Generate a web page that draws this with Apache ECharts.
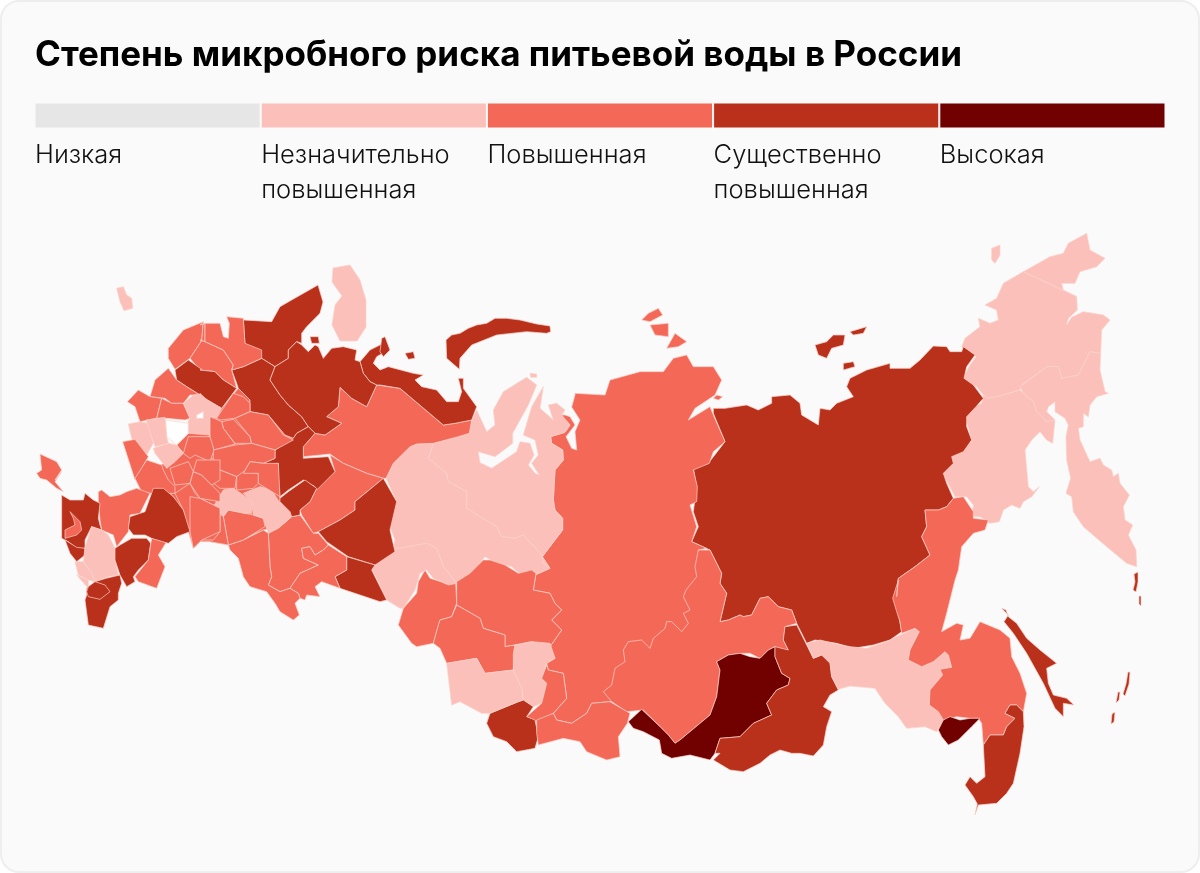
<!DOCTYPE html>
<html><head><meta charset="utf-8">
<style>html,body{margin:0;padding:0;background:#fff}#c{width:1200px;height:873px}</style>
<script src="https://cdn.jsdelivr.net/npm/echarts@6/dist/echarts.min.js"></script>
</head><body><div id="c"></div>
<script>
const titleText = 'Степень микробного риска питьевой воды в России';
const riskLabels = ['Низкая','Незначительно\nповышенная','Повышенная','Существенно\nповышенная','Высокая'];
const riskColors = ['#e6e6e6','#fbc0b9','#f46857','#b9301b','#710000'];
const riskBarLengths = [1,1,1,1,1];

// Region value: 0..4 index of riskLabels; null = no data
const regionNames = ['Центр','Чукотка','Врангель','Магаданский сектор','Камчатка','Колыма','Якутия','Новосибирские о-ва','Красноярск','Таймырские о-ва','Иркутск','Бурятия','Забайкалье','Амур','Хабаровск','Приморье','ЕАО','Сахалин','Курилы','ЯНАО','ХМАО','Томск','Омск','Новосибирск','Кемерово','Хакасия','Алтай','Алтайский край','Тува','Тюмень','Коми','Ненецкий','Новая Земля','Архангельск-1','Архангельск-2','Архангельск-3','Острова Баренцева','Кольский','Шпицберген','Пермь','Свердловск','Челябинск','Башкирия-1','Башкирия-2','Поволжье-1','Поволжье-2','Поволжье-3','Светлая-1','Светлая-2','Кировская','Удмуртия','Север-1','Север-2','Север-3','Север-4','Север-5','Запад-1','Запад-2','Запад-3','Светлая-3','Столичная','Светлая-4','Светлая-5','Светлая-6','Светлая-7','Центр-1','Центр-2','Центр-3','Центр-4','Центр-5','Центр-6','Центр-7','Центр-8','Центр-9','Центр-10','Центр-11','Юг-1','Юг-2','Юг-3','Юг-4','Крым','Ростов','Краснодар','Адыгея','Кавказ-1','Ставрополь','Кавказ-2','Кавказ-3','Кавказ-5','Кавказ-4','Калмыкия','Астрахань','Волгоград','Оренбург-запад','Москва'];
const regionLevels = [2,1,1,1,1,1,3,3,2,2,2,4,3,1,2,3,4,3,3,1,1,2,2,2,1,2,3,1,2,1,2,3,3,3,3,3,3,1,1,2,3,3,2,2,2,2,2,1,1,3,3,2,2,2,3,2,2,2,2,1,null,1,1,1,1,2,2,2,2,2,2,2,2,2,2,2,2,2,2,2,2,2,3,2,3,1,1,1,3,3,3,2,3,2,null];

// Region outlines: "crop:x,y x,y ..." with rings split by ';'. Each crop is an offset and scale of the page.
const crops = {p:[0,0,1],a:[20,280,3],b:[20,460,3],c:[200,300,3],d:[200,470,3],e:[380,300,3],f:[390,560,3],g:[600,590,3],h:[800,580,3],i:[940,230,3],j:[550,300,3],k:[690,320,3]};
const regionShapes = [
"b:345,55 365,95 390,100 430,85 460,110 510,215 520,265 545,240 600,215 d:30,215 85,225 190,180 240,170 240,85 235,45 c:235,490 225,450 280,415 255,405 205,345 150,335 150,300 115,265 65,325 20,300 0,280 a:540,345 510,415 505,425 505,460 470,495 490,520",
"i:250,125 330,80 370,70 385,40 440,10 450,60 495,85 470,110 420,125 405,160 365,160 370,180 410,200",
"i:155,55 180,45 180,75 165,100 155,90",
"i:250,125 190,160 170,205 135,225 170,240 175,270 150,280 115,265 120,290 75,325 65,350 108,380 90,405 72,440 80,460 110,470 130,495 145,505 190,495 240,480 245,465 320,410 355,410 365,445 415,435 450,365 482,370 485,300 510,270 490,255 430,245 395,262 380,285 385,265 412,240 410,200",
"i:240,470 320,410 355,410 365,445 415,435 450,365 482,370 480,420 495,485 505,490 470,500 450,525 445,560 430,550 430,590 415,595 420,630 450,695 480,685 490,705 515,720 520,740 535,730 540,760 568,795 550,830 555,870 578,885 565,915 588,960 590,1010 560,1000 500,950 430,890 400,845 395,800 378,790 392,745 380,690 378,620 385,585 375,565 345,545 345,515 325,530 320,545 345,570 320,575 290,545 280,515 250,490",
"i:130,495 145,505 190,495 240,480 250,490 280,515 290,545 320,575 345,570 338,640 320,630 300,605 275,630 255,660 265,770 280,785 298,770 275,800 250,815 240,835 215,825 190,840 178,875 150,880 120,860 95,860 100,825 80,800 45,800 40,790 10,735 15,715 35,680 60,660 95,635 90,610 78,570 85,540 125,520",
"k:70,265 105,265 170,255 205,270 245,250 245,230 300,225 330,250 335,285 385,315 390,265 420,270 440,250 490,230 470,200 480,175 530,150 600,130 600,145 660,145 690,120 730,78 770,80 780,95 815,95 820,80 855,105 830,140 822,175 850,195 880,235 858,260 830,290 830,320 845,360 820,395 785,410 790,430 760,460 770,490 790,535 770,560 745,570 705,570 710,620 695,650 720,705 675,740 625,775 620,830 625,880 635,935 600,960 550,975 490,985 440,970 375,960 350,970 320,910 305,870 265,860 235,830 210,835 185,885 160,890 150,885 115,900 90,905 110,820 90,790 95,760 60,690 5,665 25,620 10,575 20,500 10,445 55,430 105,365 70,280",
"k:375,75 410,65 430,45 465,45 460,75 425,85 410,115 385,105;k:480,35 530,20 520,40 490,45;k:460,130 490,125 495,140 460,150",
"e:585,285 575,321 600,360 585,395 590,450 575,445 558,410 585,375 570,350 555,345 542,345 570,375 555,397 512,410 515,430 548,450 550,480 525,510 520,600 525,630 548,655 548,690 525,720 487,770 510,805 465,825 f:438,40 430,90 480,100 495,130 515,150 485,180 515,210 480,260 495,295 470,310 475,330 520,340 530,415 490,460 500,480 545,490 590,460 605,430 660,425 p:628,690 640,660 690,632 705,595 j:445,750 470,745 425,725 440,680 420,615 440,605 442,560 430,510 478,490 490,455 525,425 490,345 480,320 415,360 435,325 495,285 515,240 490,200 430,200 410,165 370,175 340,215 270,215 180,240 165,285 75,280",
"j:295,40 325,25 338,45 300,65 275,60;j:300,75 355,70 355,110 315,105;j:375,100 410,125 385,140 350,145;j:500,285 518,290 505,300 490,295",
"j:445,750 k:60,690 95,760 90,790 110,820 90,905 115,900 150,885 160,890 185,885 210,835 235,830 265,860 305,870 g:590,100 555,110 550,150 565,180 530,185 525,170 505,180 480,205 450,190 420,190 385,195 350,215 360,240 350,320 330,375 240,450 225,460 205,435 130,360 80,365 35,335 10,305 35,285 45,235 75,215 70,180 85,155 125,150 150,175 160,145 195,115 200,95 215,95 245,125 265,100 250,70 270,60 250,20 258,0 j:440,830 435,800",
"g:85,395 125,358 180,410 205,435 225,460 240,450 330,375 350,320 360,240 350,215 385,195 420,190 450,200 480,205 505,180 525,170 525,200 545,250 570,265 565,285 530,300 500,340 515,375 460,400 420,440 360,445 345,490 330,510 270,495 215,505 185,490 178,450 130,425 100,415",
"g:555,110 590,105 620,165 640,205 665,195 690,215 695,260 715,300 690,315 670,350 695,365 680,410 670,465 640,498 600,490 575,490 540,480 510,495 480,520 430,545 390,540 340,510 360,490 345,490 360,445 420,440 460,400 515,375 500,340 530,300 565,285 570,265 545,250 525,200 525,170 565,180 550,150",
"h:20,190 60,180 100,190 150,200 200,205 260,185 300,165 345,145 358,155 330,210 325,240 365,260 400,245 435,215 445,225 455,262 420,268 428,285 390,330 388,375 415,395 430,420 410,455 375,440 320,445 295,410 255,370 225,325 150,318 115,328 95,290 90,250 65,225 40,235",
"k:705,570 745,570 770,560 790,535 820,530 850,575 850,595 895,600 885,630 850,640 815,680 805,750 h:465,0 440,100 425,155 470,130 490,135 480,180 510,175 525,150 540,125 600,150 630,175 635,230 660,280 680,340 670,395 650,375 630,375 615,400 645,415 620,440 610,465 570,465 550,495 545,430 535,415 510,415 470,410 430,420 415,395 388,375 390,330 428,285 420,268 455,262 445,225 435,215 400,245 365,260 325,240 330,210 358,155 345,145 305,160 300,125 290,95 278,55 295,0 k:620,830 625,775 675,740 720,705 695,650 710,620",
"h:670,395 650,375 630,375 615,400 645,415 620,440 610,465 570,465 550,495 555,590 530,610 510,590 495,615 520,650 532,672 525,705 535,675 590,670 620,640 640,610 660,520 672,440",
"h:415,450 430,420 450,410 480,420 510,415 540,415 515,440 475,480 445,495 425,470",
"h:605,85 618,90 625,110 650,130 680,175 720,210 770,250 740,265 745,310 760,345 800,355 822,375 790,370 790,410 765,385 730,310 680,220 640,160 612,125 625,105",
"p:1134,574 1138,572 1138,582 1136,592 1133,590 1135,582;p:1139,596 1141,596 1141,606 1139,604;p:1128,672 1130,672 1129,684 1125,696 1123,694 1126,684;p:1118,692 1120,692 1119,700 1116,703;p:1112,714 1115,712 1114,722 1111,724",
"e:160,430 145,475 200,520 205,545 260,575 260,625 350,680 365,710 405,715 430,705 485,765 490,790 510,805 487,770 525,720 548,690 548,655 525,630 520,600 525,510 550,480 548,450 515,430 512,410 555,397 570,375 545,345 555,330 530,310 505,315 520,360 480,325 490,260 455,320 430,405 465,420 475,465 455,490 478,525 465,520 445,495 462,465 450,430 420,425 410,455 335,505 300,488 295,455 345,470 398,430 398,400 445,315 470,255 440,232 370,275 340,330 345,375 320,395 290,330 275,360 268,400 235,410;e:450,220 470,222 470,232 452,232",
"e:160,430 145,475 200,520 205,545 260,575 260,625 350,680 365,710 405,715 430,705 485,765 490,790 510,805 465,825 420,822 395,800 350,790 315,770 275,820 230,850 190,800 170,745 140,730 60,745 40,745 45,720 30,680 48,600 18,535 40,490 90,440 110,432",
"f:200,65 240,40 280,0 300,0 345,15 385,40 425,30 438,40 430,90 480,100 495,130 515,150 485,180 515,210 480,260 425,245 375,255 345,260 345,225 280,205 270,175 200,135",
"f:85,65 105,30 120,55 170,70 197,65 200,130 185,170 150,180 130,250 80,260 65,250 25,195 40,145 80,100",
"f:150,180 185,170 200,135 270,175 280,205 345,225 345,260 375,255 370,330 285,340 260,295 170,310 150,265 130,250 145,195",
"f:375,255 425,245 480,250 495,295 470,310 455,355 470,370 455,430 430,440 400,420 395,385 370,330 370,280",
"f:470,315 475,330 520,340 530,415 490,460 440,485 410,470 455,430 470,370 455,355",
"f:300,460 385,425 400,420 430,440 410,470 435,480 445,530 435,565 380,575 350,545 310,530 290,490",
"f:170,310 260,295 285,340 370,330 395,385 400,420 385,425 300,460 275,460 210,425 185,435",
"f:440,480 490,460 500,480 545,490 590,460 605,430 660,425 720,460 712,490 685,530 690,590 650,600 590,575 570,545 520,535 445,555 440,520",
"e:40,745 60,745 140,730 170,745 190,800 230,850 205,855 160,835 140,810 120,820 105,870 70,925 d:600,415 560,390 530,325 510,290 530,250 585,235",
"c:530,255 500,320 455,295 420,262 415,320 380,350 425,370 375,405 345,400 310,440 310,470 390,462 430,490 500,520 550,535 e:18,535 40,490 90,440 110,432 160,430 235,410 268,400 275,360 225,370 190,375 60,265",
"c:480,185 510,150 550,130 565,150 530,170 520,190 540,210 e:25,200 100,220 130,225 105,240 125,260 170,270 200,305 235,305 245,275 235,235 250,235 250,265 290,320 275,360 225,370 190,375 60,265 0,255 c:530,255 510,245 490,220",
"e:198,120 215,105 240,100 265,85 290,75 320,70 345,55 380,55 420,60 470,72 510,78 512,95 500,100 440,95 350,105 275,135 240,175 238,208 200,175",
"c:130,60 215,65 240,20 275,0 p:318,285 323,302 c:360,40 320,80 305,100 305,130 290,125 265,150 265,175 225,200 185,175 135,135",
"c:95,210 130,200 185,175 225,200 210,240 240,285 265,315 305,350 325,380 290,400 280,415 255,405 205,345 150,335 150,300 115,265 110,250",
"c:225,200 265,175 265,150 290,125 305,135 325,155 345,135 355,140 370,175 395,145 430,140 470,150 465,180 480,185 490,220 510,245 530,255 500,320 455,295 420,262 415,320 380,350 425,370 375,405 345,400 325,380 305,350 265,315 240,285 210,240",
"c:330,110 355,110 358,130 335,130;e:0,155 5,115 15,110 30,150 10,170;e:75,160 100,155 105,175 85,178",
"p:333,268 350,265 360,280 366,300 366,327 357,341 340,341 332,325 335,305 342,296 332,282",
"a:290,25 310,20 320,45 335,55 338,85 312,92 300,65",
"c:390,465 430,490 500,520 550,535 d:465,95 465,120 420,150 355,185 340,190 305,135 300,120 330,95 350,55 370,30 c:405,515",
"d:355,185 420,150 465,120 465,95 550,25 590,95 570,180 585,245 525,285 445,260 380,215",
"d:405,320 440,300 440,260 525,285 515,300 560,390 540,395 480,375 420,355",
"d:205,190 240,170 275,140 300,135 340,190 355,190 385,225 370,240 345,255 330,230 305,235 310,265 355,285 300,310 270,355 240,365 205,345 215,320 210,290",
"d:385,225 440,260 440,300 405,320 420,355 365,335 345,350 360,380 320,375 315,390 300,385 295,370 270,355 300,310 355,285 310,265 305,235 330,230 345,255 370,240",
"d:85,225 130,210 190,180 205,190 210,290 215,320 205,345 240,365 270,355 295,370 300,385 285,400 298,435 280,450 240,425 225,400 200,365 150,350 130,320 115,265 90,240",
"d:70,140 85,120 135,130 160,135 190,145 195,170 130,210 85,225",
"d:0,90 40,110 70,140 85,225 30,215 0,215",
"d:40,110 70,60 100,55 115,65 130,75 155,95 155,130 135,130 85,120 70,140",
"d:130,70 180,50 215,60 240,100 280,115 275,135 300,135 275,140 235,175 205,190 190,145 160,135 155,95",
"c:190,490 225,475 225,450 280,415 290,400 325,380 345,400 310,440 310,475 385,470 405,515 350,570 345,560 310,540 265,570 240,590 235,550 235,490 205,495",
"d:240,85 265,65 315,30 350,55 330,95 300,120 300,135 275,140 270,125 240,95",
"a:445,205 490,150 550,125 545,182 510,235 465,268 445,235",
"a:550,125 c:0,75 15,70 15,125 0,120 a:545,182",
"a:545,182 c:15,125 70,150 100,195 95,210 110,265 70,240 45,215 0,210 a:510,235",
"a:465,270 505,240 545,268 c:0,210 45,215 70,240 110,265 65,325 20,300 0,280 a:540,345 500,320 470,300",
"c:15,70 60,70 70,110 85,115 88,70 80,50 130,55 135,130 185,150 185,175 130,200 95,210 100,195 70,150 15,125",
"a:390,350 405,300 445,265 470,300 500,320 540,345 510,345 490,370 455,370 435,355",
"a:322,365 355,330 390,350 425,355 410,415 360,425 345,380",
"a:425,355 455,370 490,370 510,415 495,420 440,415 410,415",
"a:510,415 490,370 520,345 c:0,283 20,298 65,325 50,355 30,350 30,415 20,415 a:570,465 505,460 505,425",
"a:437,420 505,430 505,460 470,495 440,470",
"a:325,432 360,425 385,430 400,490 380,525 355,500 335,475",
"a:378,420 435,412 440,470 445,490 405,500",
"a:400,505 445,490 470,495 490,520 465,545 440,565 405,520",
"a:530,405 550,395 550,415 530,415",
"c:50,355 100,280 130,290 150,310 150,335 105,355 60,360",
"c:65,365 100,358 150,410 155,430 105,430 70,385",
"c:105,355 150,335 205,345 250,405 280,420 225,450 155,430 150,410",
"c:30,350 65,365 70,385 105,432 42,450 30,420",
"c:40,450 105,435 155,430 225,450 225,475 190,490 150,485 130,520 110,530 60,510 40,495",
"c:0,490 40,475 60,510 110,530 105,565 60,565 35,545 25,515 0,500",
"c:110,530 130,515 175,520 175,550 160,565 110,570",
"c:150,485 190,490 235,490 240,590 175,550 175,520 130,520",
"a:490,520 505,470 570,470 582,510 570,545 525,525 510,535",
"b:465,75 450,25 505,5 520,35 510,70",
"b:510,70 520,35 545,45 575,75 600,100 600,125 540,115",
"b:530,0 570,0 600,0 600,60 575,75 545,45 520,35",
"a:308,485 345,478 385,530 365,565 345,600",
"b:380,0 425,15 430,30 445,60 465,80 465,100 390,100 365,95 345,55",
"b:465,100 510,70 525,100 540,115 600,145 600,215 580,240 545,240 520,265 505,215 490,150",
"a:60,522 110,545 125,570 105,600 b:125,35 105,65 130,95 110,85 80,60 60,55 50,40 a:65,570",
"b:235,95 245,90 270,110 300,105 320,95 350,85 390,100 360,160 330,165 325,215 290,260 280,225 245,210 240,180 235,125",
"b:125,105 150,120 190,120 195,100 220,120 240,130 235,175 240,195 245,210 215,200 195,240 195,265 170,265 145,245 125,235",
"b:150,155 180,185 185,210 170,225 135,235 135,210 165,195 160,175",
"b:135,240 170,262 195,265 195,285 170,305 150,280",
"b:215,200 245,210 265,225 285,265 285,300 295,345 265,350 225,365 215,340 190,305 195,262",
"b:165,305 190,305 215,340 225,365 205,360 175,345",
"b:170,345 205,360 205,385",
"b:200,385 225,365 258,355 300,345 305,370 295,400 295,420 270,440 250,505 205,495 195,420 200,405",
"b:205,380 225,365 255,375 270,395 240,418 205,410 200,395",
"b:285,265 300,255 335,235 380,235 392,250 385,300 355,330 340,350 345,365 320,380 300,345 295,330 285,300",
"b:395,235 440,245 415,285 435,320 410,385 355,365 345,350 385,300",
"b:330,170 375,155 400,85 430,85 460,110 490,150 510,215 470,230 445,250 395,235 375,225 340,225 325,205",
"b:510,215 520,265 545,240 600,215 600,145 540,115 510,110",
"a:530,405 550,395 550,415 530,415"
];

function parseRing(str){
  let c = crops.p; const out = [];
  str.trim().split(/\s+/).forEach(tok=>{
    const m = tok.match(/^([a-z]):(.*)$/);
    if(m){ c = crops[m[1]]; tok = m[2]; }
    const [x,y] = tok.split(',').map(Number);
    out.push([c[0]+x/c[2], 873-(c[1]+y/c[2])]);
  });
  out.push(out[0]);
  return out;
}
const geo = {type:'FeatureCollection',features:regionShapes.map((s,i)=>({
  type:'Feature',properties:{name:regionNames[i]},
  geometry:{type:'MultiPolygon',coordinates:s.split(';').map(r=>[parseRing(r)])}
}))};
echarts.registerMap('ru',geo);
const chart = echarts.init(document.getElementById('c'),null,{renderer:'canvas'});
chart.setOption({
  animation:false,
  backgroundColor:'transparent',
  graphic:[{type:'rect',z:-100,silent:true,shape:{x:1,y:1,width:1198,height:871,r:18},style:{fill:'#fafafa',stroke:'#eeeeee',lineWidth:2}}],
  title:{text:titleText,left:30,top:33,textStyle:{fontFamily:'Inter',fontWeight:700,fontSize:35,color:'#000'}},
  grid:{left:34.5,right:34.5,top:102.5,height:26},
  xAxis:{type:'category',data:riskLabels,show:false},
  yAxis:{type:'value',min:0,max:1,show:false},
  visualMap:{show:false,seriesIndex:0,dimension:0,type:'piecewise',pieces:riskColors.map((color,value)=>({value,color}))},
  series:[
   {type:'map',map:'ru',left:0,top:0,width:1200,height:873,boundingCoords:[[0,873],[1200,0]],aspectScale:1,roam:false,silent:true,
    label:{show:false},emphasis:{disabled:true},select:{disabled:true},
    itemStyle:{areaColor:'#ffffff',borderColor:'#fbd3cc',borderWidth:0.7},
    data:regionNames.map((name,i)=>regionLevels[i]==null?{name}:{name,value:regionLevels[i]})},
   {type:'bar',barCategoryGap:0,barWidth:'100%',silent:true,
    itemStyle:{borderColor:'#fafafa',borderWidth:1},
    data:riskBarLengths.map((value,i)=>({value,itemStyle:{color:riskColors[i]}})),
    label:{show:true,position:[0.5,35],align:'left',verticalAlign:'top',formatter:p=>p.name,
      fontFamily:'Inter',fontWeight:300,fontSize:25.5,lineHeight:35,color:'#111'}}
  ]
});
</script></body></html>
